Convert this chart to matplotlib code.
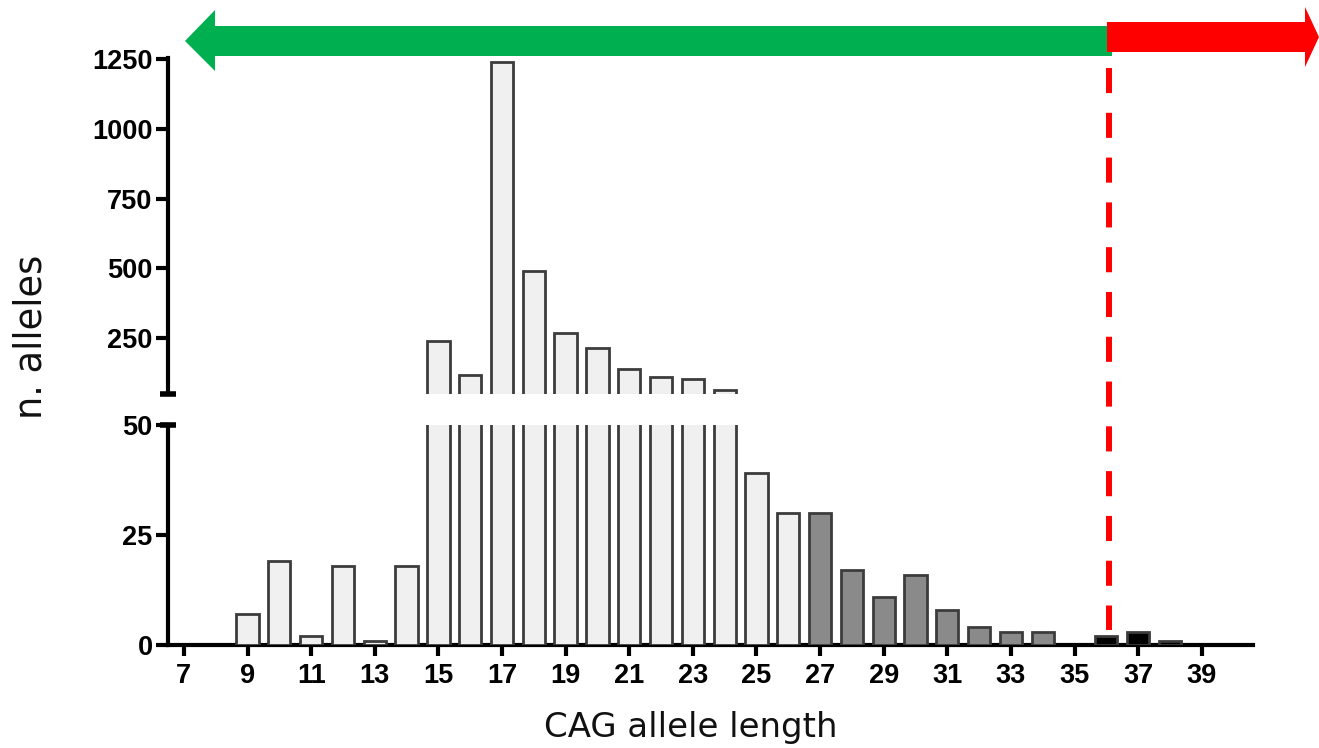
import matplotlib
matplotlib.use("Agg")
import matplotlib.pyplot as plt
from matplotlib.patches import Polygon
from matplotlib.lines import Line2D

# ---- data ----
cag_length = [9, 10, 11, 12, 13, 14, 15, 16, 17, 18, 19, 20, 21, 22, 23, 24,
              25, 26, 27, 28, 29, 30, 31, 32, 33, 34, 36, 37, 38]
n_alleles = [7, 19, 2, 18, 1, 18, 239, 116, 1240, 490, 268, 214, 138, 109, 102, 62,
             39, 30, 30, 17, 11, 16, 8, 4, 3, 3, 2, 3, 1]
x_ticks = list(range(7, 40, 2))
low_ticks = [0, 25, 50]
high_ticks = [250, 500, 750, 1000, 1250]
threshold = 36

W, H = 1319, 748
fig = plt.figure(figsize=(W / 100, H / 100), dpi=100)


def fx(px):
    return px / W


def fy(py):
    return 1 - py / H


def bar_colors(x):
    if x >= 36:
        return "#000000"
    if x >= 27:
        return "#8a8a8a"
    return "#f0f0f0"


face = [bar_colors(x) for x in cag_length]

left, right = 168, 1253
ax_low = fig.add_axes([fx(left), fy(645), fx(right) - fx(left), fy(425) - fy(645)])
ax_high = fig.add_axes([fx(left), fy(394), fx(right) - fx(left), fy(58) - fy(394)])

xlim = (6.5, 40.61)
for ax in (ax_low, ax_high):
    ax.bar(cag_length, n_alleles, width=0.7, color=face, edgecolor="#3c3c3c",
           linewidth=2.0, zorder=3)
    ax.set_xlim(*xlim)
    ax.spines["top"].set_visible(False)
    ax.spines["right"].set_visible(False)
    ax.spines["left"].set_linewidth(3)
    ax.spines["bottom"].set_linewidth(3)
    ax.tick_params(axis="y", length=9, width=3, pad=2, labelsize=19.5)

ax_low.set_ylim(0, 50)
ax_low.set_yticks(low_ticks)
ax_low.set_xticks(x_ticks)
ax_low.tick_params(axis="x", length=8, width=3, pad=5, labelsize=19.5)
for lab in ax_low.get_xticklabels() + ax_low.get_yticklabels():
    lab.set_fontweight("bold")
    lab.set_family("Liberation Sans")

ax_high.set_ylim(49, 1255)
ax_high.set_yticks(high_ticks)
ax_high.spines["bottom"].set_visible(False)
ax_high.set_xticks([])
for lab in ax_high.get_yticklabels():
    lab.set_fontweight("bold")
    lab.set_family("Liberation Sans")

# spine end caps at the break
ax_high.plot([xlim[0]], [49], marker="_", markersize=12, markeredgewidth=4,
             color="black", clip_on=False, zorder=5)
ax_low.plot([xlim[0]], [50], marker="_", markersize=12, markeredgewidth=4,
            color="black", clip_on=False, zorder=5)

# axis labels
fig.text(fx(691), fy(728), "CAG allele length", ha="center", va="center",
         fontsize=24.5, family="DejaVu Sans", color="#111111")
fig.text(fx(31), fy(337), "n. alleles", ha="center", va="center",
         fontsize=26.5, family="DejaVu Sans", color="#111111", rotation=90)

# arrows
green = [(185, 41), (215, 10), (215, 26), (1112, 26), (1112, 56), (215, 56), (215, 71)]
red = [(1107, 22), (1305, 22), (1305, 7), (1319, 37), (1305, 67), (1305, 52), (1107, 52)]
fig.patches.append(Polygon([(fx(a), fy(b)) for a, b in green], closed=True,
                           transform=fig.transFigure, facecolor="#00b050",
                           edgecolor="none", zorder=10))
fig.patches.append(Polygon([(fx(a), fy(b)) for a, b in red], closed=True,
                           transform=fig.transFigure, facecolor="#ff0000",
                           edgecolor="none", zorder=11))

# dashed threshold line
xd_disp = ax_low.transData.transform((threshold, 0))[0] + 3
xd = xd_disp / fig.bbox.width
fig.lines.append(Line2D([xd, xd], [fy(68), fy(630)], transform=fig.transFigure,
                        color="#ff0000", linewidth=4.3,
                        linestyle=(0, (4.2, 3.3)), zorder=12))

fig.savefig("out.png", dpi=100)
